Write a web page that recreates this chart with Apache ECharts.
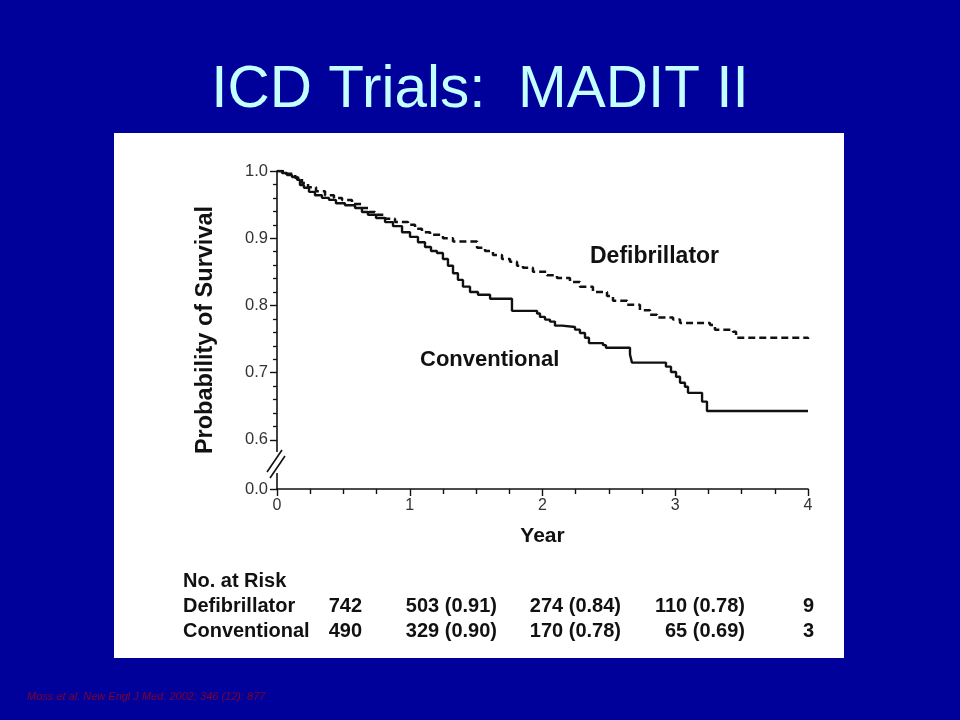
<!DOCTYPE html>
<html>
<head>
<meta charset="utf-8">
<script src="https://cdn.jsdelivr.net/npm/echarts@6/dist/echarts.min.js"></script>
<style>html,body{margin:0;padding:0;background:#00009a;}#c{width:960px;height:720px;}</style>
</head>
<body>
<div id="c"></div>
<script>
// ---- data ----
const titleText = 'ICD Trials:  MADIT II';
const citationText = 'Moss et al. New Engl J Med. 2002; 346 (12): 877';
const xTicks = [0, 1, 2, 3, 4];
const yTickValues = [0.527, 0.6, 0.7, 0.8, 0.9, 1.0];
const yTickLabels = ['0.0', '0.6', '0.7', '0.8', '0.9', '1.0'];
const yMinorTicks = [0.62, 0.64, 0.66, 0.68, 0.72, 0.74, 0.76, 0.78, 0.82, 0.84, 0.86, 0.88, 0.92, 0.94, 0.96, 0.98];
const seriesNames = ['Defibrillator', 'Conventional'];
// Kaplan-Meier steps: [year, survival after the drop]
const defibrillatorCurve = [
  [0, 1.0], [0.060, 0.996], [0.136, 0.990], [0.188, 0.982], [0.234, 0.976], [0.294, 0.970],
  [0.362, 0.964], [0.429, 0.960], [0.490, 0.957], [0.565, 0.951], [0.640, 0.945], [0.693, 0.939],
  [0.738, 0.935], [0.814, 0.929], [0.889, 0.924], [0.987, 0.920], [1.040, 0.914], [1.092, 0.909],
  [1.153, 0.905], [1.250, 0.900], [1.326, 0.895], [1.507, 0.886], [1.567, 0.881], [1.627, 0.875],
  [1.695, 0.869], [1.755, 0.865], [1.808, 0.859], [1.853, 0.856], [1.928, 0.850], [2.034, 0.845],
  [2.109, 0.841], [2.207, 0.835], [2.282, 0.828], [2.380, 0.820], [2.486, 0.814], [2.531, 0.807],
  [2.637, 0.801], [2.734, 0.793], [2.810, 0.786], [2.863, 0.782], [2.983, 0.779], [3.036, 0.774],
  [3.262, 0.771], [3.299, 0.764], [3.435, 0.761], [3.458, 0.752], [4.0, 0.750]
];
const conventionalCurve = [
  [0, 1.0], [0.038, 0.997], [0.075, 0.994], [0.113, 0.991], [0.151, 0.987], [0.173, 0.979],
  [0.203, 0.975], [0.241, 0.969], [0.286, 0.964], [0.339, 0.960], [0.392, 0.957], [0.444, 0.952],
  [0.512, 0.949], [0.588, 0.945], [0.640, 0.939], [0.685, 0.935], [0.746, 0.930], [0.814, 0.924],
  [0.874, 0.918], [0.942, 0.909], [1.002, 0.902], [1.062, 0.894], [1.115, 0.887], [1.160, 0.881],
  [1.205, 0.878], [1.250, 0.869], [1.288, 0.859], [1.326, 0.848], [1.363, 0.838], [1.401, 0.828],
  [1.454, 0.820], [1.514, 0.816], [1.605, 0.810], [1.770, 0.792], [1.959, 0.788], [1.981, 0.783],
  [2.019, 0.779], [2.056, 0.776], [2.094, 0.770], [2.147, 0.768], [2.245, 0.764], [2.282, 0.759],
  [2.320, 0.752], [2.350, 0.744], [2.456, 0.741], [2.478, 0.737], [2.659, 0.727], [2.674, 0.715],
  [2.930, 0.709], [2.968, 0.701], [3.006, 0.694], [3.036, 0.685], [3.073, 0.679], [3.096, 0.670],
  [3.202, 0.657], [3.239, 0.643], [4.0, 0.643]
];
const riskHeader = 'No. at Risk';
const defibAtRisk = [742, 503, 274, 110, 9];
const defibSurvival = [null, 0.91, 0.84, 0.78, null];
const convAtRisk = [490, 329, 170, 65, 3];
const convSurvival = [null, 0.90, 0.78, 0.69, null];

// ---- layout ----
const FONT = "'Liberation Sans', Arial, Helvetica, sans-serif";
const colRight = [362, 497, 621, 745, 814];
const rowY = [606, 631];

function cell(n, s) { return s == null ? String(n) : n + ' (' + s.toFixed(2) + ')'; }

const chart = echarts.init(document.getElementById('c'), null, { renderer: 'canvas' });
const graphics = [
  { type: 'rect', z: -100, shape: { x: 114, y: 133, width: 730, height: 525 }, style: { fill: '#ffffff' } },
  { type: 'text', x: 480, y: 90, scaleX: 0.975, z: 10,
    style: { text: titleText, fill: '#c4ffff', font: '60px ' + FONT, textAlign: 'center', textVerticalAlign: 'middle' } },
  { type: 'text', x: 27, y: 697, z: 10,
    style: { text: citationText, fill: '#800030', font: 'italic 11px ' + FONT, textVerticalAlign: 'middle' } },
  // axis break
  { type: 'rect', z: 100, shape: { x: 272, y: 452, width: 10, height: 21 }, style: { fill: '#ffffff' } },
  { type: 'line', z: 101, shape: { x1: 267, y1: 472, x2: 282, y2: 450 }, style: { stroke: '#111', lineWidth: 1.6 } },
  { type: 'line', z: 101, shape: { x1: 270, y1: 478, x2: 285, y2: 456 }, style: { stroke: '#111', lineWidth: 1.6 } },
  // curve labels
  { type: 'text', x: 590, y: 257, z: 100,
    style: { text: seriesNames[0], fill: '#111', font: 'bold 23px ' + FONT, textVerticalAlign: 'middle' } },
  { type: 'text', x: 420, y: 360, z: 100,
    style: { text: seriesNames[1], fill: '#111', font: 'bold 22px ' + FONT, textVerticalAlign: 'middle' } },
  // risk table
  { type: 'text', x: 183, y: 581, z: 100,
    style: { text: riskHeader, fill: '#111', font: 'bold 20px ' + FONT, textVerticalAlign: 'middle' } }
];
const rows = [[seriesNames[0], defibAtRisk, defibSurvival], [seriesNames[1], convAtRisk, convSurvival]];
rows.forEach(function (r, ri) {
  graphics.push({ type: 'text', x: 183, y: rowY[ri], z: 100,
    style: { text: r[0], fill: '#111', font: 'bold 20px ' + FONT, textVerticalAlign: 'middle' } });
  r[1].forEach(function (n, ci) {
    graphics.push({ type: 'text', x: colRight[ci], y: rowY[ri], z: 100,
      style: { text: cell(n, r[2][ci]), fill: '#111', font: 'bold 20px ' + FONT, textAlign: 'right', textVerticalAlign: 'middle' } });
  });
});

chart.setOption({
  backgroundColor: '#00009a',
  animation: false,
  textStyle: { fontFamily: FONT },
  grid: { left: 277, right: 152, top: 171, bottom: 231, containLabel: false },
  xAxis: {
    type: 'value', min: 0, max: 4, interval: 1,
    name: 'Year', nameLocation: 'middle', nameGap: 37,
    nameTextStyle: { color: '#111', fontSize: 21, fontWeight: 'bold', fontFamily: FONT },
    axisLine: { onZero: false, lineStyle: { color: '#111', width: 1.6 } },
    axisTick: { length: 7, lineStyle: { color: '#111', width: 1.4 } },
    minorTick: { show: true, splitNumber: 4, length: 5, lineStyle: { color: '#111', width: 1.4 } },
    axisLabel: { color: '#333', fontSize: 16, margin: 9, formatter: function (v) { return xTicks.indexOf(v) >= 0 ? String(v) : ''; } },
    splitLine: { show: false }
  },
  yAxis: [{
    type: 'value', min: yTickValues[0], max: 1.0,
    name: 'Probability of Survival', nameLocation: 'middle', nameGap: 59, nameRotate: 90,
    nameTextStyle: { color: '#111', fontSize: 23.5, fontWeight: 'bold', fontFamily: FONT },
    axisLine: { show: true, lineStyle: { color: '#111', width: 1.6 } },
    axisTick: { show: true, length: 7, customValues: yTickValues, lineStyle: { color: '#111', width: 1.4 } },
    axisLabel: { color: '#333', fontSize: 16.5, margin: 9, customValues: yTickValues,
      formatter: function (v) { const i = yTickValues.findIndex(function (t) { return Math.abs(t - v) < 1e-6; }); return i >= 0 ? yTickLabels[i] : ''; } },
    splitLine: { show: false }
  }, {
    type: 'value', min: yTickValues[0], max: 1.0, position: 'left',
    axisLine: { show: false },
    axisTick: { show: true, length: 4, customValues: yMinorTicks, lineStyle: { color: '#111', width: 1.3 } },
    axisLabel: { show: false },
    splitLine: { show: false }
  }],
  series: [{
    name: seriesNames[0], type: 'line', step: 'end', showSymbol: false, symbol: 'none', yAxisIndex: 0,
    data: defibrillatorCurve,
    lineStyle: { color: '#111', width: 2.5, type: [7, 4] }, z: 5
  }, {
    name: seriesNames[1], type: 'line', step: 'end', showSymbol: false, symbol: 'none', yAxisIndex: 0,
    data: conventionalCurve,
    lineStyle: { color: '#111', width: 2.4 }, z: 6
  }],
  graphic: graphics
});
</script>
</body>
</html>
